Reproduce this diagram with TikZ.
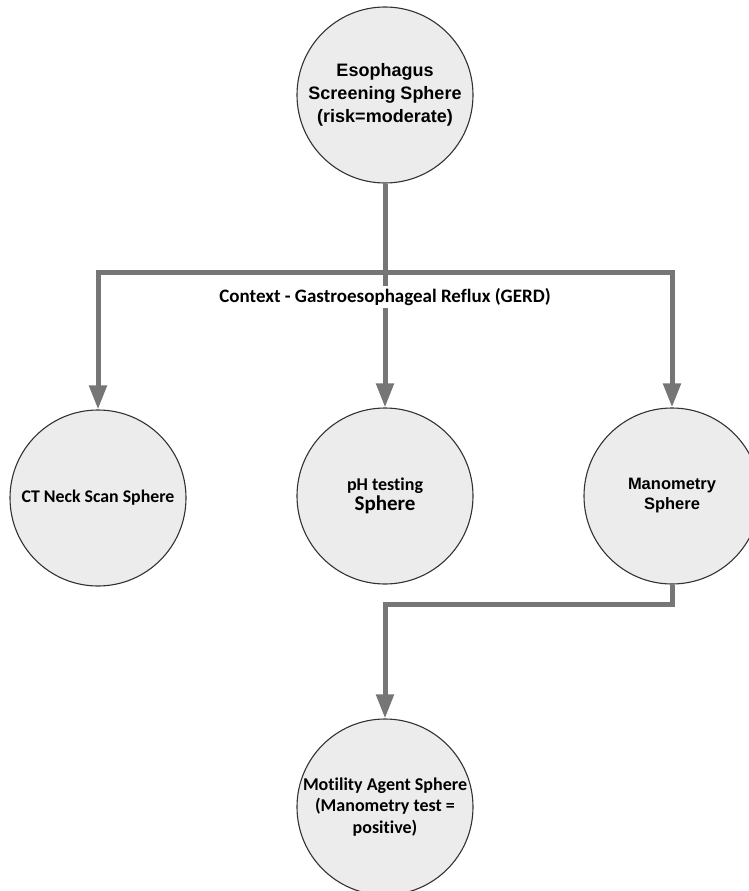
\documentclass[tikz,border=0pt]{standalone}
\usepackage{fontspec}
\usepackage{tikz}
\usetikzlibrary{arrows.meta,positioning}
\newfontfamily\arialfont{Liberation Sans}
\newfontfamily\califont{Carlito}[Ligatures=NoCommon]
\definecolor{linegray}{RGB}{118,118,118}
\definecolor{spherefill}{RGB}{236,236,236}
\definecolor{sphereedge}{RGB}{50,50,50}
\tikzset{
  sphere/.style={circle,draw=sphereedge,line width=1.1pt,fill=spherefill,
    minimum size=176pt,inner sep=0pt,align=center,text=black},
  link/.style={draw=linegray,line width=5pt},
  linkarr/.style={link,-{Triangle[length=24pt,width=17pt]}},
}
\begin{document}
\begin{tikzpicture}[line join=miter,x=1pt,y=-1pt]
		\useasboundingbox (0,0) rectangle (749,891);
		%%%%%%%%%%%%%%% S P H E R E S %%%%%%%%%%%%%%%%
		%top
		\node[sphere,font=\arialfont\bfseries\fontsize{18}{23}\selectfont] (esoph) at (385,95) {Esophagus\\Screening Sphere\\(risk=moderate)};
		%row 1
		\node[sphere,font=\califont\bfseries\fontsize{17.8}{20}\selectfont] (ctneck) at (98,498) {CT Neck Scan Sphere};
		\node[sphere,font=\califont\bfseries\fontsize{18}{20}\selectfont] (phtest) at (385,496) {pH testing\\{\fontsize{21}{21}\selectfont Sphere}};
		\node[sphere,font=\arialfont\bfseries\fontsize{16.5}{20}\selectfont] (mano) at (672,496) {Manometry\\Sphere};
		%row 2
		\node[sphere,font=\califont\bfseries\fontsize{18}{21.7}\selectfont] (motil) at (385,807) {Motility Agent Sphere\\(Manometry test =\\positive)};
		%%%%%%%%%%%%%%% L I N K S %%%%%%%%%%%%%%%%
		\coordinate (bus) at (385,272);
		\draw[link] (esoph.south) -- (bus);
		\draw[linkarr] (bus) -| (ctneck.north);
		\draw[linkarr] (bus) -| (mano.north);
		\draw[linkarr] (bus) -- (phtest.north);
		\draw[linkarr] (mano.south) -- ++(0,20) -| (motil.north);
		%T A G S
		\node[fill=white,inner sep=2pt,font=\califont\bfseries\fontsize{19}{21}\selectfont] (ctx) at (385,297) {Context - Gastroesophageal Reflux (GERD)};
	\end{tikzpicture}
\end{document}
